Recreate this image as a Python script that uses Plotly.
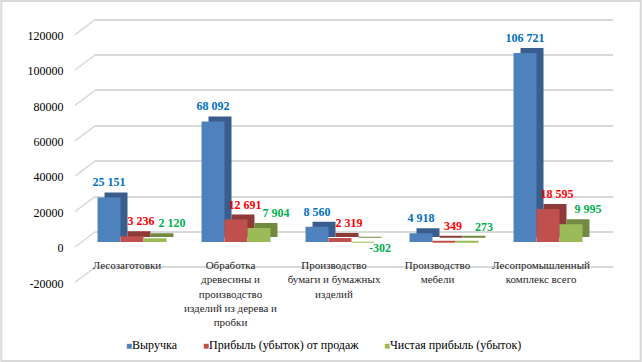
import plotly.graph_objects as go

categories = ["Лесозаготовки", "Обработка", "Бумага", "Мебель", "Всего"]
category_labels = [
    "Лесозаготовки",
    "Обработка<br>древесины и<br>производство<br>изделий из дерева и<br>пробки",
    "Производство<br>бумаги и бумажных<br>изделий",
    "Производство<br>мебели",
    "Лесопромышленный<br>комплекс всего",
]
series_names = ["Выручка", "Прибыль (убыток) от продаж", "Чистая прибыль (убыток)"]
revenue = [25151, 68092, 8560, 4918, 106721]
sales_profit = [3236, 12691, 2319, 349, 18595]
net_profit = [2120, 7904, -302, 273, 9995]
series_values = [revenue, sales_profit, net_profit]
y_ticks = [-20000, 0, 20000, 40000, 60000, 80000, 100000, 120000]

front_colors = ["#4F81BD", "#C0504D", "#9BBB59"]
side_colors = ["#395E8E", "#8E3A38", "#728A40"]
label_colors = ["#0070C0", "#FF0000", "#00B050"]

W, H = 642, 362
K = 35.4 / 20000.0  # px per unit
RMIN, RMAX = -25000, 125000
SERIF = "Liberation Serif"


def ydom(zero_px):
    top = zero_px - RMAX * K
    bot = zero_px - RMIN * K
    return [1 - bot / H, 1 - top / H]


def xdom(l, r):
    return [l / W, r / W]


def fmt(v):
    return f"{v:,}".replace(",", " ")


fig = go.Figure()

# grid subplot (x, y) - empty
fig.add_trace(go.Scatter(x=[None], y=[None], xaxis="x", yaxis="y",
                         showlegend=False, hoverinfo="skip"))

# back faces (x2, y2)
for i, vals in enumerate(series_values):
    fig.add_trace(go.Bar(
        x=categories, y=vals, xaxis="x2", yaxis="y2",
        marker=dict(color=side_colors[i], line=dict(width=0)),
        showlegend=False, hoverinfo="skip",
    ))

# front faces (x3, y3)
for i, vals in enumerate(series_values):
    fig.add_trace(go.Bar(
        x=categories, y=vals, xaxis="x3", yaxis="y3", name=series_names[i],
        marker=dict(color=front_colors[i], line=dict(width=0)),
        showlegend=False, cliponaxis=False,
    ))

# label axes (x4, y4) - empty
fig.add_trace(go.Scatter(x=[None], y=[None], xaxis="x4", yaxis="y4",
                         showlegend=False, hoverinfo="skip"))

# data labels on top of everything, one label subplot per series
label_axes = [("x5", "y5", 0), ("x6", "y6", 1), ("x7", "y7", 2)]
label_shift = [0, 9, 17]
for xa, ya, which in label_axes:
    for i, vals in enumerate(series_values):
        fig.add_trace(go.Bar(
            x=categories, y=vals, xaxis=xa, yaxis=ya,
            marker=dict(color="rgba(0,0,0,0)", line=dict(width=0)),
            text=[fmt(v) for v in vals] if i == which else None,
            textposition="outside",
            textfont=dict(family=SERIF, size=12, color=label_colors[i], weight="bold"),
            constraintext="none", cliponaxis=False,
            showlegend=False, hoverinfo="skip",
        ))

hidden = dict(showgrid=False, zeroline=False, showticklabels=False, showline=False, ticks="")

layout_axes = dict(
    xaxis=dict(domain=xdom(95, 613), range=[0, 1], anchor="y", **hidden),
    yaxis=dict(domain=ydom(232), range=[RMIN, RMAX], anchor="x",
               tickvals=y_ticks, showgrid=True, gridcolor="#D9D9D9", gridwidth=1.5,
               zeroline=False, showticklabels=False, showline=False, ticks=""),
    xaxis2=dict(domain=xdom(87, 607), anchor="y2", type="category", **hidden),
    yaxis2=dict(domain=ydom(237), range=[RMIN, RMAX], anchor="x2", **hidden),
    xaxis3=dict(domain=xdom(80, 600), anchor="y3", type="category", **hidden),
    yaxis3=dict(domain=ydom(242), range=[RMIN, RMAX], anchor="x3", **hidden),
    xaxis4=dict(domain=xdom(75.25, 592.75), range=[-0.5, 4.5], anchor="free",
                position=1 - 257 / H, tickvals=list(range(len(categories))),
                ticktext=category_labels, showgrid=False, zeroline=False,
                showline=False, ticks="",
                tickfont=dict(family=SERIF, size=11, color="#262626")),
    yaxis4=dict(domain=ydom(248), range=[RMIN, RMAX], anchor="free",
                position=63.5 / W, tickvals=y_ticks, ticktext=[str(v) for v in y_ticks],
                showgrid=False, zeroline=False, showline=False, ticks="",
                tickfont=dict(family=SERIF, size=12, color="black")),
)
for (xa, ya, which) in label_axes:
    s = label_shift[which]
    layout_axes["xaxis" + xa[1:]] = dict(domain=xdom(80 + s, 600 + s), anchor=ya,
                                         type="category", **hidden)
    layout_axes["yaxis" + ya[1:]] = dict(domain=ydom(237), range=[RMIN, RMAX],
                                         anchor=xa, **hidden)

fig.update_layout(
    width=W, height=H,
    margin=dict(l=0, r=0, t=0, b=0),
    paper_bgcolor="white", plot_bgcolor="rgba(0,0,0,0)",
    barmode="group", bargap=0.337, bargroupgap=0,
    showlegend=False,
    font=dict(family=SERIF, size=12, color="black"),
    **layout_axes,
)

# legend (square swatch + name), placed as in the reference
legend_x = [124, 201, 382]
for i, name in enumerate(series_names):
    fig.add_annotation(
        x=legend_x[i] / W, y=1 - 345 / H, xref="paper", yref="paper",
        xanchor="left", yanchor="middle", showarrow=False,
        text=f"<span style='color:{front_colors[i]};font-size:10px'>■</span>{name}",
        font=dict(family=SERIF, size=12, color="black"),
    )

shapes = []
for v in y_ticks:
    shapes.append(dict(type="line", xref="paper", yref="paper",
                       x0=75 / W, y0=1 - (247 - v * K) / H,
                       x1=95 / W, y1=1 - (232 - v * K) / H,
                       line=dict(color="#D9D9D9", width=1.5), layer="below"))
shapes.append(dict(type="rect", xref="paper", yref="paper", x0=0.002, y0=0.003,
                   x1=0.998, y1=0.997, line=dict(color="#D9D9D9", width=2)))
fig.update_layout(shapes=shapes)

fig.write_html("out.html", post_script="document.body.style.margin='0';",
               config={"displayModeBar": False})
